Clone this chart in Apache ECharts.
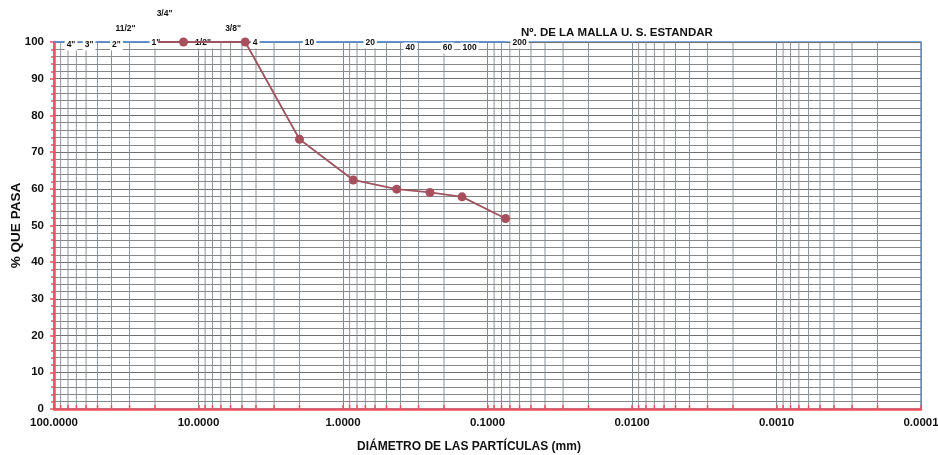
<!DOCTYPE html>
<html>
<head>
<meta charset="utf-8">
<script src="https://cdn.jsdelivr.net/npm/echarts@6/dist/echarts.min.js"></script>
<style>html,body{margin:0;padding:0;background:#fff;}#c{width:938px;height:455px;}</style>
</head>
<body>
<div id="c"></div>
<script>
// ---- data ----
var sieveLabels = ['4"', '3"', '2"', '11/2"', '1"', '3/4"', '1/2"', '3/8"', '4', '10', '20', '40', '60', '100', '200'];
var sieveSizes  = [101.6, 76.2, 50.8, 38.1, 25.4, 19.05, 12.7, 9.525, 4.75, 2.0, 0.85, 0.425, 0.25, 0.15, 0.075];
var curveSizes  = [19.05, 12.7, 4.75, 2.0, 0.85, 0.425, 0.25, 0.15, 0.075];
var curvePass   = [100, 100, 100, 73.5, 62.4, 59.9, 59.0, 57.8, 51.9];
var xTickLabels = ['100.0000', '10.0000', '1.0000', '0.1000', '0.0100', '0.0010', '0.0001'];

// ---- layout / style (not data) ----
var labelOffsets = [[18,3],[18,3],[20,3],[11,-13],[16,1],[6.5,-28],[19.5,1],[31.5,-13],[10,1],[10,1],[17,1],[13.5,6],[17.5,6],[7.5,6],[14,1]];
var FONT = 'Liberation Sans, Arial, sans-serif';
var RED = '#e8525e';

// log minor grid positions (axis structure)
var gridVals = [];
for (var k = -4; k <= 1; k++) {
  for (var m = 2; m <= 9; m++) {
    gridVals.push(+(m * Math.pow(10, k)).toPrecision(3));
  }
}

var chart = echarts.init(document.getElementById('c'));
var option = {
  animation: false,
  backgroundColor: '#fff',
  title: {
    text: 'Nº. DE LA MALLA U. S. ESTANDAR',
    left: 516, top: 22,
    textStyle: {fontFamily: FONT, fontSize: 11.5, fontWeight: 'bold', color: '#111'}
  },
  grid: {left: 54, right: 17, top: 42, bottom: 46, outerBoundsMode: 'none', containLabel: false,
         show: true, borderColor: '#5b8fd0', borderWidth: 1.5, backgroundColor: 'transparent'},
  xAxis: {
    type: 'log', logBase: 10, min: 0.0001, max: 100, inverse: true,
    name: 'DIÁMETRO DE LAS PARTÍCULAS (mm)', nameLocation: 'middle', nameGap: 32, nameMoveOverlap: false,
    nameTextStyle: {fontFamily: FONT, fontSize: 12, fontWeight: 'bold', color: '#111', padding: [0, 37, 0, 0]},
    axisLine: {show: true, lineStyle: {color: RED, width: 2.5}},
    axisTick: {show: true, inside: true, length: 4, lineStyle: {color: RED, width: 1.5}},
    axisLabel: {
      margin: 8, fontFamily: FONT, fontSize: 11.5, fontWeight: 'bold', color: '#111',
      formatter: function (v) {
        var i = Math.round(2 - Math.log10(v));
        return xTickLabels[i] !== undefined ? xTickLabels[i] : v.toFixed(4);
      }
    },
    splitLine: {show: true, lineStyle: {color: '#7d8a99', width: 1}}
  },
  yAxis: {
    type: 'value', min: 0, max: 100, interval: 10,
    name: '% QUE PASA', nameLocation: 'middle', nameGap: 31, nameMoveOverlap: false,
    nameTextStyle: {fontFamily: FONT, fontSize: 13.5, fontWeight: 'bold', color: '#111'},
    axisLine: {show: true, lineStyle: {color: RED, width: 2.5}},
    axisTick: {show: true, length: 4, lineStyle: {color: RED, width: 1.5}},
    minorTick: {show: true, splitNumber: 5, length: 3, lineStyle: {color: RED, width: 1.5}},
    axisLabel: {margin: 10, fontFamily: FONT, fontSize: 11.5, fontWeight: 'bold', color: '#111'},
    splitLine: {show: true, lineStyle: {color: '#6f6f6f', width: 1}},
    minorSplitLine: {show: true, lineStyle: {color: '#7a7a7a', width: 0.9}}
  },
  series: [
    {
      // vertical log minor grid lines + red minor ticks on the x axis
      type: 'custom', silent: true, z: 1, clip: true,
      data: gridVals.map(function (v) { return [v]; }),
      renderItem: function (params, api) {
        var v = api.value(0);
        var p0 = api.coord([v, 0]);
        var p1 = api.coord([v, 100]);
        return {
          type: 'group',
          children: [
            {type: 'line', shape: {x1: p0[0], y1: p0[1], x2: p1[0], y2: p1[1]},
             style: {stroke: '#80888f', lineWidth: 0.9}},
            {type: 'line', shape: {x1: p0[0], y1: p0[1] + 1, x2: p0[0], y2: p0[1] - 4},
             style: {stroke: RED, lineWidth: 1.5}}
          ]
        };
      }
    },
    {
      // sieve reference line at top with sieve labels
      type: 'line', clip: false, silent: true, z: 3,
      data: sieveSizes.map(function (s, i) { return {value: [s, 100], name: sieveLabels[i]}; }),
      symbol: 'circle', symbolSize: 0,
      itemStyle: {color: 'transparent'},
      lineStyle: {color: '#5b8fd0', width: 1.6},
      label: {
        show: true, position: 'inside',
        formatter: function (p) { return sieveLabels[p.dataIndex]; },
        fontFamily: FONT, fontSize: 8.5, fontWeight: 'bold', color: '#111',
        backgroundColor: '#fff', padding: [1, 2]
      },
      labelLayout: function (p) {
        var o = labelOffsets[p.dataIndex];
        return {x: p.rect.x + p.rect.width / 2 + o[0], y: p.rect.y + p.rect.height / 2 + o[1], align: 'center', verticalAlign: 'middle'};
      }
    },
    {
      type: 'line', z: 4,
      data: curveSizes.map(function (s, i) { return [s, curvePass[i]]; }),
      symbol: 'circle',
      symbolSize: function (v, p) { return p.dataIndex === 0 ? 0 : 9; },
      itemStyle: {color: '#a84f5e'},
      lineStyle: {color: '#9e5560', width: 1.8}
    }
  ]
};
chart.setOption(option);
</script>
</body>
</html>
